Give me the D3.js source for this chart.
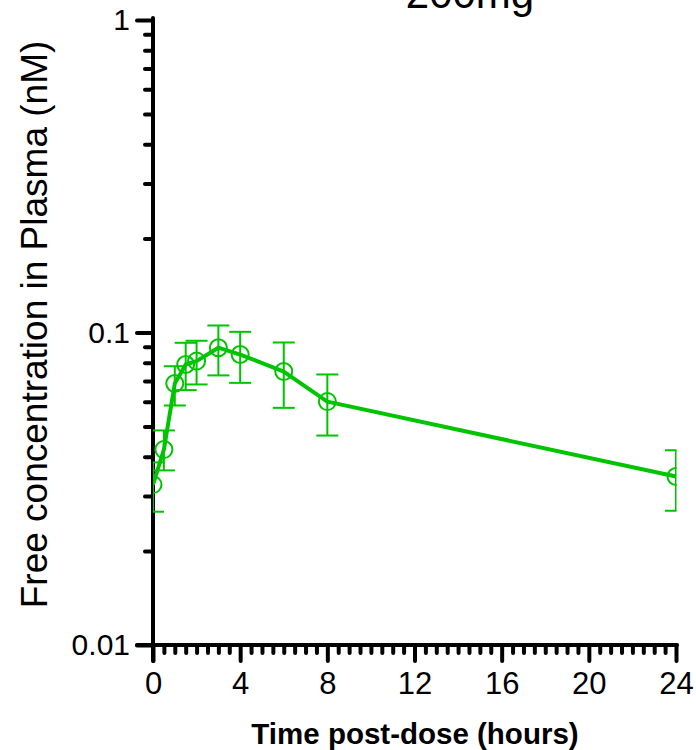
<!DOCTYPE html>
<html>
<head>
<meta charset="utf-8">
<script src="https://cdn.jsdelivr.net/npm/d3@7"></script>
<style>
  html, body { margin: 0; padding: 0; background: #fff; }
  svg { display: block; font-family: "Liberation Sans", Arial, sans-serif; }
</style>
</head>
<body>
<svg id="chart" width="696" height="750"></svg>
<script>
// Free plasma concentration over time, 200mg dose
const times = [0, 0.5, 1, 1.5, 2, 3, 4, 6, 8, 24];
const conc  = [0.0326, 0.0422, 0.0687, 0.079, 0.081, 0.0894, 0.085, 0.075, 0.0601, 0.0346];
const upper = [0.0384, 0.0486, 0.078, 0.0927, 0.0941, 0.1053, 0.1005, 0.0929, 0.0734, 0.042];
const lower = [0.0267, 0.0362, 0.0584, 0.0654, 0.0682, 0.0729, 0.069, 0.0574, 0.0468, 0.0269];

const xMajorTicks = [0, 4, 8, 12, 16, 20, 24];
const yMajorTicks = [0.01, 0.1, 1];
const yTickLabels = ["0.01", "0.1", "1"];

const chartTitle = "200mg";
const xTitle = "Time post-dose (hours)";
const yTitle = "Free concentration in Plasma (nM)";

const green = "#00c400";
const svg = d3.select("#chart");

const x = d3.scaleLinear().domain([0, 24]).range([153, 676]);
const y = d3.scaleLog().domain([0.01, 1]).range([645, 20]);

// minor ticks: every half hour on x, 2..9 per decade on y
const xMinor = d3.range(0, 24.001, 0.5).filter(t => t % 4 !== 0);
const yMinor = [];
[0.01, 0.1].forEach(d => { for (let k = 2; k <= 9; k++) yMinor.push(+(d * k).toPrecision(2)); });

// clip for data marks
svg.append("defs").append("clipPath").attr("id", "plotClip")
  .append("rect").attr("x", x(0)).attr("y", 0)
  .attr("width", x(24) - x(0) + 0.5).attr("height", y(0.01));

// x axis
const xAxis = svg.append("g").attr("transform", `translate(0,${y(0.01)})`);
xAxis.append("g")
  .call(d3.axisBottom(x).tickValues(xMajorTicks).tickSize(16).tickPadding(11).tickFormat(d3.format("d")))
  .call(g => g.select(".domain").remove())
  .call(g => g.selectAll("text").attr("font-size", 31));
xAxis.append("g")
  .call(d3.axisBottom(x).tickValues(xMinor).tickSize(8).tickFormat(""))
  .call(g => g.select(".domain").remove());
xAxis.append("line").attr("class", "axisline")
  .attr("x1", x(0) - 16).attr("x2", x(24) + 1).attr("y1", 0).attr("y2", 0);

// y axis
const yAxis = svg.append("g").attr("transform", `translate(${x(0)},0)`);
yAxis.append("g")
  .call(d3.axisLeft(y).tickValues(yMajorTicks).tickSize(16).tickPadding(7)
    .tickFormat((d, i) => yTickLabels[i]))
  .call(g => g.select(".domain").remove())
  .call(g => g.selectAll("text").attr("font-size", 30));
yAxis.append("g")
  .call(d3.axisLeft(y).tickValues(yMinor).tickSize(8).tickFormat(""))
  .call(g => g.select(".domain").remove());
yAxis.append("line").attr("class", "axisline")
  .attr("x1", 0).attr("x2", 0).attr("y1", y(1) - 2).attr("y2", y(0.01) + 16);

svg.selectAll(".tick line, .axisline")
  .attr("stroke", "#000").attr("stroke-width", 4).attr("stroke-linecap", "round");
svg.selectAll(".tick text")
  .attr("fill", "#000")
  .attr("font-family", "Liberation Sans, Arial, sans-serif");

// data
const data = times.map((t, i) => ({ t, v: conc[i], hi: upper[i], lo: lower[i] }));
const plot = svg.append("g").attr("clip-path", "url(#plotClip)");

const bars = plot.append("g").attr("stroke", green).attr("stroke-width", 2).attr("fill", "none");
data.forEach(d => {
  const cx = x(d.t);
  bars.append("line").attr("x1", cx).attr("x2", cx).attr("y1", y(d.hi)).attr("y2", y(d.lo));
  bars.append("line").attr("x1", cx - 11).attr("x2", cx + 11).attr("y1", y(d.hi)).attr("y2", y(d.hi));
  bars.append("line").attr("x1", cx - 11).attr("x2", cx + 11).attr("y1", y(d.lo)).attr("y2", y(d.lo));
});

plot.append("g").selectAll("circle").data(data).join("circle")
  .attr("cx", d => x(d.t)).attr("cy", d => y(d.v)).attr("r", 8.5)
  .attr("fill", "none").attr("stroke", green).attr("stroke-width", 2);

plot.append("path").datum(data)
  .attr("fill", "none").attr("stroke", green).attr("stroke-width", 4)
  .attr("stroke-linejoin", "round")
  .attr("d", d3.line().x(d => x(d.t)).y(d => y(d.v)));

// titles
svg.append("text").attr("x", 470).attr("y", 8).attr("text-anchor", "middle")
  .attr("font-size", 42).attr("fill", "#000").text(chartTitle);

svg.append("text").attr("x", 415).attr("y", 744).attr("text-anchor", "middle")
  .attr("font-size", 29.5).attr("font-weight", "bold").attr("fill", "#000").text(xTitle);

svg.append("text")
  .attr("transform", `translate(47,${(y(1) + y(0.01)) / 2 - 8}) rotate(-90)`)
  .attr("text-anchor", "middle").attr("font-size", 37).attr("fill", "#000").text(yTitle);
</script>
</body>
</html>
